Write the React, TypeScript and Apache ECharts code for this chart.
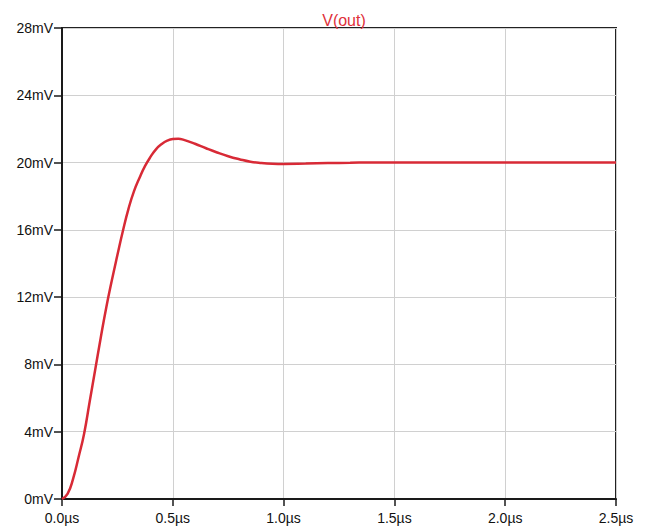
import React, { useEffect, useRef } from "react";
import * as echarts from "echarts";

const timeUs: number[] = [
  0, 0.025, 0.05, 0.075, 0.1, 0.125, 0.15, 0.175, 0.2, 0.225, 0.25, 0.275, 0.3,
  0.325, 0.35, 0.375, 0.4, 0.425, 0.45, 0.475, 0.5, 0.525, 0.55, 0.6, 0.65, 0.7,
  0.75, 0.8, 0.85, 0.9, 0.95, 1.0, 1.1, 1.2, 1.3, 1.4, 1.6, 1.8, 2.0, 2.5,
];
const voutMv: number[] = [
  0, 0.3, 1.2, 2.5, 3.9, 5.8, 7.7, 9.6, 11.4, 13.0, 14.5, 15.95, 17.25,
  18.3, 19.1, 19.8, 20.35, 20.8, 21.1, 21.3, 21.4, 21.42, 21.35, 21.12, 20.85, 20.6,
  20.38, 20.2, 20.05, 19.97, 19.93, 19.92, 19.94, 19.97, 19.99, 20.01, 20.01, 20.0, 20.0, 20.0,
];
const seriesName = "V(out)";

export default function App() {
  const ref = useRef<HTMLDivElement>(null);
  useEffect(() => {
    if (!ref.current) return;
    const chart = echarts.init(ref.current, undefined, { renderer: "svg" });
    const labelStyle = {
      color: "#111111",
      fontSize: 14,
      fontWeight: "normal" as const,
      fontFamily: "Liberation Sans, Arial, sans-serif",
    };
    chart.setOption({
      animation: false,
      backgroundColor: "#ffffff",
      title: {
        text: seriesName,
        left: 339,
        textAlign: "center",
        top: 7,
        textStyle: {
          color: "#e0303a",
          fontSize: 16,
          fontWeight: "normal",
          fontFamily: "Liberation Sans, Arial, sans-serif",
        },
      },
      grid: {
        left: 62,
        right: 30,
        top: 28,
        bottom: 32,
        show: true,
        borderColor: "#222",
        borderWidth: 2,
        backgroundColor: "#ffffff",
      },
      xAxis: {
        type: "value",
        min: 0,
        max: 2.5,
        interval: 0.5,
        axisLine: { show: true, lineStyle: { color: "#1a1a1a", width: 2 } },
        axisTick: { show: true, length: 7, lineStyle: { color: "#1a1a1a", width: 1.5 } },
        axisLabel: {
          ...labelStyle,
          margin: 12,
          formatter: (v: number) => v.toFixed(1) + "µs",
        },
        splitLine: { show: true, lineStyle: { color: "#d0d0d0", width: 1 } },
      },
      yAxis: {
        type: "value",
        min: 0,
        max: 28,
        interval: 4,
        axisLine: { show: true, lineStyle: { color: "#1a1a1a", width: 2 } },
        axisTick: { show: true, length: 8, lineStyle: { color: "#1a1a1a", width: 1.5 } },
        axisLabel: {
          ...labelStyle,
          margin: 9,
          formatter: (v: number) => v + "mV",
        },
        splitLine: { show: true, lineStyle: { color: "#d0d0d0", width: 1 } },
      },
      series: [
        {
          name: seriesName,
          type: "line",
          data: timeUs.map((t, i) => [t, voutMv[i]]),
          smooth: 0.5,
          showSymbol: false,
          lineStyle: { color: "#d82a36", width: 2.5 },
        },
      ],
    });
    return () => chart.dispose();
  }, []);
  return (
    <div
      ref={ref}
      style={{ position: "fixed", left: 0, top: 0, width: 646, height: 531 }}
    />
  );
}
